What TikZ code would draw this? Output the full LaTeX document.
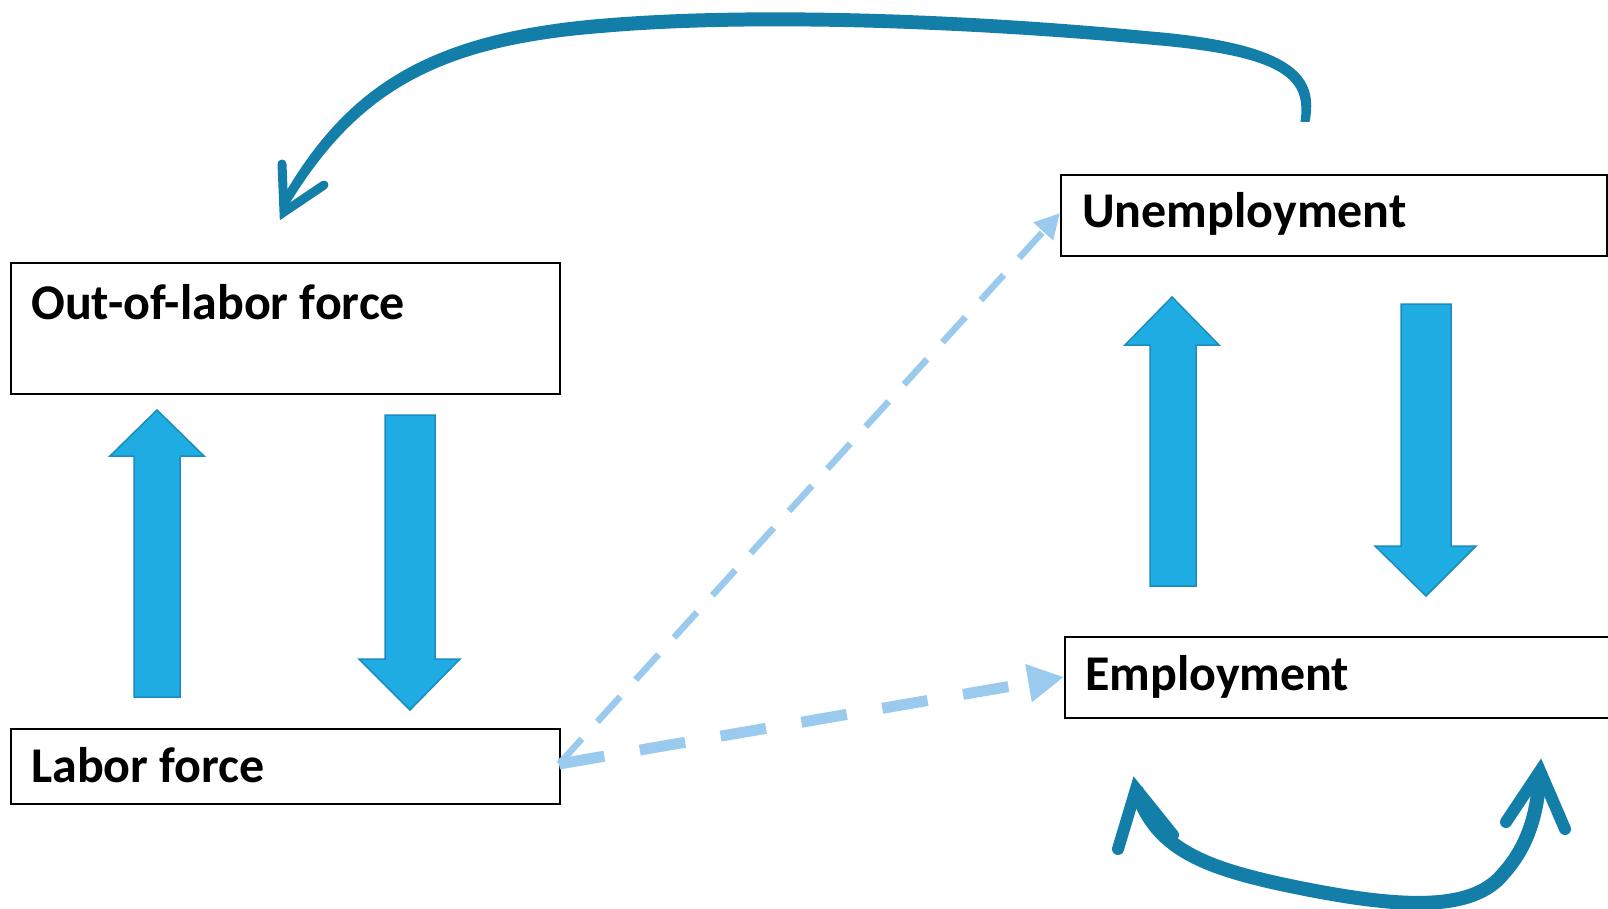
\documentclass[tikz,border=0pt]{standalone}
\usepackage{fontspec}
\setmainfont{Carlito}
\usetikzlibrary{arrows.meta}
\definecolor{teal1}{HTML}{137FA8}
\definecolor{blockfill}{HTML}{1EACE2}
\definecolor{blockline}{HTML}{1A8CBD}
\definecolor{dashblue}{HTML}{9ACBEE}
\tikzset{
  box/.style={draw=black, line width=2pt, fill=white, rectangle, inner sep=0pt, anchor=north west},
  lbl/.style={inner sep=0pt, anchor=base west, font=\fontsize{50}{60}\selectfont\bfseries},
  blockarrow/.style={fill=blockfill, draw=blockline, line width=1.5pt, line join=miter},
  curvearrow/.style={draw=teal1, line cap=butt},
  chevron/.style={draw=teal1, line cap=round, line join=miter},
  dashline/.style={draw=dashblue, line cap=butt}
}
\begin{document}
\begin{tikzpicture}[x=1pt,y=-1pt]
\useasboundingbox (0,0) rectangle (1608,909);
\fill[white] (0,0) rectangle (1608,909);

% boxes
\node[box, minimum width=549pt, minimum height=131pt] (olf) at (10,262) {};
\node[box, minimum width=549pt, minimum height=75pt] (lf) at (10,728) {};
\node[box, minimum width=546pt, minimum height=81pt] (un) at (1060,174) {};
\node[box, minimum width=560pt, minimum height=81pt] (em) at (1064,636) {};

% labels
\node[lbl] (olft) at (31,319) {Out-of-labor force};
\node[lbl] (lft) at (31,782) {Labor force};
\node[lbl] (unt) at (1082,228) {Unemployment};
\node[lbl] (emt) at (1085,690) {Employment};

% block arrows
\draw[blockarrow] (134,697) -- (134,456) -- (110,456) -- (157,410) -- (204,456) -- (180,456) -- (180,697) -- cycle;
\draw[blockarrow] (385,415) -- (385,659) -- (359,659) -- (410,710) -- (460,659) -- (435,659) -- (435,415) -- cycle;
\draw[blockarrow] (1150,586) -- (1150,345) -- (1125,345) -- (1172,297) -- (1219,345) -- (1196,345) -- (1196,586) -- cycle;
\draw[blockarrow] (1401,304) -- (1401,546) -- (1375,546) -- (1426,596) -- (1476,546) -- (1451,546) -- (1451,304) -- cycle;

% dashed connectors
\coordinate (lfe) at (559,764);
\coordinate (emw) at (1064,677);
\coordinate (unw) at (1060,213);
\draw[dashline, line width=11pt, dash pattern=on 46pt off 36pt, -{Triangle[length=36pt,width=36pt]}] (lfe) -- (emw);
\draw[dashline, line width=6.5pt, dash pattern=on 34pt off 23pt, -{Triangle[length=25pt,width=25pt]}] (lfe) -- (unw);

% top curved arrow: Unemployment -> Out-of-labor force (tapered stroke)
\coordinate (topso) at (1309.5,122);
\coordinate (topsi) at (1300.5,122);
\coordinate (topeo) at (280,202);
\coordinate (topei) at (288,206);
\coordinate (toptip) at (284,212);
\coordinate (topb1) at (282,164);
\coordinate (topb2) at (324,185);
\fill[teal1] (topso) .. controls (1318,79) and (1300,44) .. (1151,31.5)
   .. controls (980,15) and (760,5) .. (599,19)
   .. controls (427,34) and (345,87) .. (topeo)
   -- (topei) .. controls (356,94) and (435,46) .. (601,33)
   .. controls (760,19) and (980,29) .. (1149,44.5)
   .. controls (1290,56) and (1306,81) .. (topsi) -- cycle;
\draw[chevron, line width=9pt] (topb1) -- (toptip) -- (topb2);

% bottom double curved arrow
\coordinate (bl) at (1136,789);
\coordinate (br) at (1540,771);
\draw[curvearrow, line width=14pt] (bl) .. controls (1155,848) and (1200,868) .. (1300,888)
   .. controls (1400,908) and (1472,912) .. (1503,874)
   .. controls (1532,842) and (1538,805) .. (br);
\draw[chevron, line width=12pt] (1118,849) -- (bl) -- (1173,835);
\draw[chevron, line width=12pt] (1506,822) -- (br) -- (1565,829);
\end{tikzpicture}
\end{document}
